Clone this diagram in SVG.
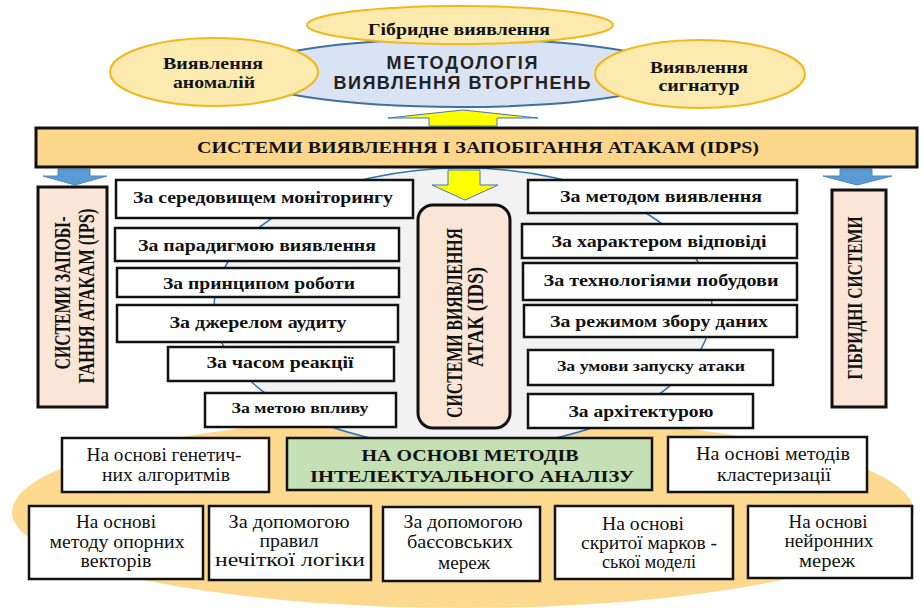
<svg xmlns="http://www.w3.org/2000/svg" width="923" height="608" viewBox="0 0 923 608">
<style>
.ye{fill:#fdeaae;stroke:#f3b71a;stroke-width:2}
.box{fill:#fff;stroke:#111;stroke-width:2.5}
.pk{fill:#fbe5d6;stroke:#111;stroke-width:3}
.tb{font-family:"Liberation Serif","Times New Roman",serif;font-weight:bold;font-size:17px;fill:#111;text-anchor:middle}
.ts{font-family:"Liberation Sans",Arial,sans-serif;font-weight:bold;font-size:18px;fill:#222;text-anchor:middle}
.tr{font-family:"Liberation Serif","Times New Roman",serif;font-size:18px;fill:#111;text-anchor:middle}
.tv{font-family:"Liberation Serif","Times New Roman",serif;font-weight:bold;font-size:24px;fill:#111;text-anchor:middle}
.ya{fill:#ffff00;stroke:#4472c4;stroke-width:1}
.ba{fill:#5b9bd5;stroke:#4a87c6;stroke-width:1}
</style>
<rect width="923" height="608" fill="#fff"/>
<g id="background">
<ellipse cx="463" cy="512" rx="451" ry="96" fill="#fcd98f"/>
<ellipse cx="463" cy="308" rx="249" ry="140" fill="#f2f2f2" stroke="#2e75b6" stroke-width="1.5"/>
</g>
<g id="methodology">
<ellipse cx="460" cy="73" rx="217" ry="34" fill="#dae3f3" stroke="#41719c" stroke-width="2"/>
<text class="ts" x="462" y="69" textLength="151" lengthAdjust="spacing">МЕТОДОЛОГІЯ</text>
<text class="ts" x="462" y="89" textLength="257" lengthAdjust="spacing">ВИЯВЛЕННЯ ВТОРГНЕНЬ</text>
</g>
<g id="hybrid-detection">
<ellipse class="ye" cx="460" cy="25" rx="153" ry="19"/>
<text class="tb" x="459" y="35" textLength="182" lengthAdjust="spacingAndGlyphs">Гібридне виявлення</text>
</g>
<g id="anomaly-detection">
<ellipse class="ye" cx="214" cy="72" rx="104" ry="34"/>
<text class="tb" x="213" y="69" textLength="100" lengthAdjust="spacingAndGlyphs">Виявлення</text>
<text class="tb" x="214" y="88" textLength="82" lengthAdjust="spacingAndGlyphs">аномалій</text>
</g>
<g id="signature-detection">
<ellipse class="ye" cx="700" cy="74" rx="105" ry="34"/>
<text class="tb" x="699" y="73" textLength="98" lengthAdjust="spacingAndGlyphs">Виявлення</text>
<text class="tb" x="699" y="91" textLength="81" lengthAdjust="spacingAndGlyphs">сигнатур</text>
</g>
<g id="connectors">
<path class="ya" d="M429,126 V118 H388 L463,110 L538,118 H497 V126 Z"/>
<path class="ya" d="M448,170 H480 V185 H498 L465,200 L432,185 H448 Z"/>
<path class="ba" d="M58,169 H90 V176 H107 L75,185 L43,176 H58 Z"/>
<path class="ba" d="M840,169 H872 V176 H892 L857,185 L823,176 H840 Z"/>
</g>
<g id="idps">
<rect x="36" y="128" width="881" height="39" fill="#fcd68a" stroke="#111" stroke-width="3"/>
<text class="tb" x="478" y="153" textLength="562" lengthAdjust="spacingAndGlyphs">СИСТЕМИ ВИЯВЛЕННЯ І ЗАПОБІГАННЯ АТАКАМ (IDPS)</text>
</g>
<g id="ips">
<rect class="pk" x="38" y="187" width="69" height="220"/>
<text class="tv" transform="translate(70,293) rotate(-90)" textLength="153" lengthAdjust="spacingAndGlyphs">СИСТЕМИ ЗАПОБІ-</text>
<text class="tv" transform="translate(94,296) rotate(-90)" textLength="175" lengthAdjust="spacingAndGlyphs">ГАННЯ АТАКАМ (IPS)</text>
</g>
<g id="ids">
<rect class="pk" x="418" y="205" width="92" height="223" rx="15"/>
<text class="tv" transform="translate(462,323) rotate(-90)" textLength="190" lengthAdjust="spacingAndGlyphs">СИСТЕМИ ВИЯВЛЕННЯ</text>
<text class="tv" transform="translate(483,317) rotate(-90)" textLength="100" lengthAdjust="spacingAndGlyphs">АТАК (IDS)</text>
</g>
<g id="hybrid-systems">
<rect class="pk" x="832" y="190" width="54" height="217"/>
<text class="tv" transform="translate(862,298) rotate(-90)" textLength="163" lengthAdjust="spacingAndGlyphs" style="font-size:22px">ГІБРИДНІ СИСТЕМИ</text>
</g>
<g id="l1"><rect class="box" x="116" y="180" width="297" height="38"/><text class="tb" x="263" y="203" textLength="260" lengthAdjust="spacingAndGlyphs">За середовищем моніторингу</text></g>
<g id="l2"><rect class="box" x="115" y="228" width="284" height="33"/><text class="tb" x="257" y="251" textLength="238" lengthAdjust="spacingAndGlyphs">За парадигмою виявлення</text></g>
<g id="l3"><rect class="box" x="117" y="268" width="282" height="29"/><text class="tb" x="259" y="289" textLength="192" lengthAdjust="spacingAndGlyphs">За принципом роботи</text></g>
<g id="l4"><rect class="box" x="117" y="305" width="281" height="37"/><text class="tb" x="258" y="328" textLength="177" lengthAdjust="spacingAndGlyphs">За джерелом аудиту</text></g>
<g id="l5"><rect class="box" x="168" y="347" width="226" height="34"/><text class="tb" x="280" y="368" textLength="147" lengthAdjust="spacingAndGlyphs">За часом реакції</text></g>
<g id="l6"><rect class="box" x="205" y="393" width="191" height="34"/><text class="tb" x="300" y="413" textLength="137" lengthAdjust="spacingAndGlyphs" style="font-size:15px">За метою впливу</text></g>
<g id="r1"><rect class="box" x="528" y="180" width="269" height="33"/><text class="tb" x="661" y="202" textLength="202" lengthAdjust="spacingAndGlyphs">За методом виявлення</text></g>
<g id="r2"><rect class="box" x="522" y="224" width="275" height="34"/><text class="tb" x="659" y="247" textLength="215" lengthAdjust="spacingAndGlyphs">За характером відповіді</text></g>
<g id="r3"><rect class="box" x="523" y="263" width="274" height="37"/><text class="tb" x="661" y="286" textLength="235" lengthAdjust="spacingAndGlyphs">За технологіями побудови</text></g>
<g id="r4"><rect class="box" x="524" y="305" width="273" height="32"/><text class="tb" x="659" y="327" textLength="218" lengthAdjust="spacingAndGlyphs">За режимом збору даних</text></g>
<g id="r5"><rect class="box" x="528" y="350" width="245" height="35"/><text class="tb" x="651" y="371" textLength="188" lengthAdjust="spacingAndGlyphs" style="font-size:15px">За умови запуску атаки</text></g>
<g id="r6"><rect class="box" x="528" y="394" width="225" height="34"/><text class="tb" x="641" y="417" textLength="145" lengthAdjust="spacingAndGlyphs">За архітектурою</text></g>
<g id="b1"><rect class="box" x="62" y="438" width="207" height="54"/>
<text class="tr" x="164" y="461" textLength="155" lengthAdjust="spacingAndGlyphs">На основі генетич-</text>
<text class="tr" x="166" y="481" textLength="128" lengthAdjust="spacingAndGlyphs">них алгоритмів</text></g>
<g id="b2"><rect x="287" y="438" width="365" height="52" fill="#c5e0b4" stroke="#111" stroke-width="2.5"/>
<text class="tb" x="470" y="461" textLength="217" lengthAdjust="spacingAndGlyphs">НА ОСНОВІ МЕТОДІВ</text>
<text class="tb" x="472" y="482" textLength="324" lengthAdjust="spacingAndGlyphs">ІНТЕЛЕКТУАЛЬНОГО АНАЛІЗУ</text></g>
<g id="b3"><rect class="box" x="668" y="437" width="199" height="55"/>
<text class="tr" x="773" y="460" textLength="154" lengthAdjust="spacingAndGlyphs">На основі методів</text>
<text class="tr" x="774" y="481" textLength="114" lengthAdjust="spacingAndGlyphs">кластеризації</text></g>
<g id="c1"><rect class="box" x="29" y="506" width="174" height="73"/>
<text class="tr" x="116" y="528" textLength="80" lengthAdjust="spacingAndGlyphs">На основі</text>
<text class="tr" x="117" y="548" textLength="135" lengthAdjust="spacingAndGlyphs">методу опорних</text>
<text class="tr" x="116" y="567" textLength="71" lengthAdjust="spacingAndGlyphs">векторів</text></g>
<g id="c2"><rect class="box" x="209" y="506" width="162" height="74"/>
<text class="tr" x="289" y="528" textLength="121" lengthAdjust="spacingAndGlyphs">За допомогою</text>
<text class="tr" x="289" y="547" textLength="59" lengthAdjust="spacingAndGlyphs">правил</text>
<text class="tr" x="290" y="566" textLength="150" lengthAdjust="spacingAndGlyphs">нечіткої логіки</text></g>
<g id="c3"><rect class="box" x="383" y="507" width="157" height="74"/>
<text class="tr" x="463" y="528" textLength="119" lengthAdjust="spacingAndGlyphs">За допомогою</text>
<text class="tr" x="460" y="548" textLength="106" lengthAdjust="spacingAndGlyphs">баєсовських</text>
<text class="tr" x="464" y="569" textLength="52" lengthAdjust="spacingAndGlyphs">мереж</text></g>
<g id="c4"><rect class="box" x="555" y="506" width="178" height="73"/>
<text class="tr" x="643" y="530" textLength="82" lengthAdjust="spacingAndGlyphs">На основі</text>
<text class="tr" x="649" y="549" textLength="136" lengthAdjust="spacingAndGlyphs">скритої марков -</text>
<text class="tr" x="649" y="568" textLength="94" lengthAdjust="spacingAndGlyphs">ської моделі</text></g>
<g id="c5"><rect class="box" x="748" y="506" width="164" height="72"/>
<text class="tr" x="828" y="528" textLength="79" lengthAdjust="spacingAndGlyphs">На основі</text>
<text class="tr" x="829" y="547" textLength="89" lengthAdjust="spacingAndGlyphs">нейронних</text>
<text class="tr" x="827" y="567" textLength="56" lengthAdjust="spacingAndGlyphs">мереж</text></g>
</svg>
